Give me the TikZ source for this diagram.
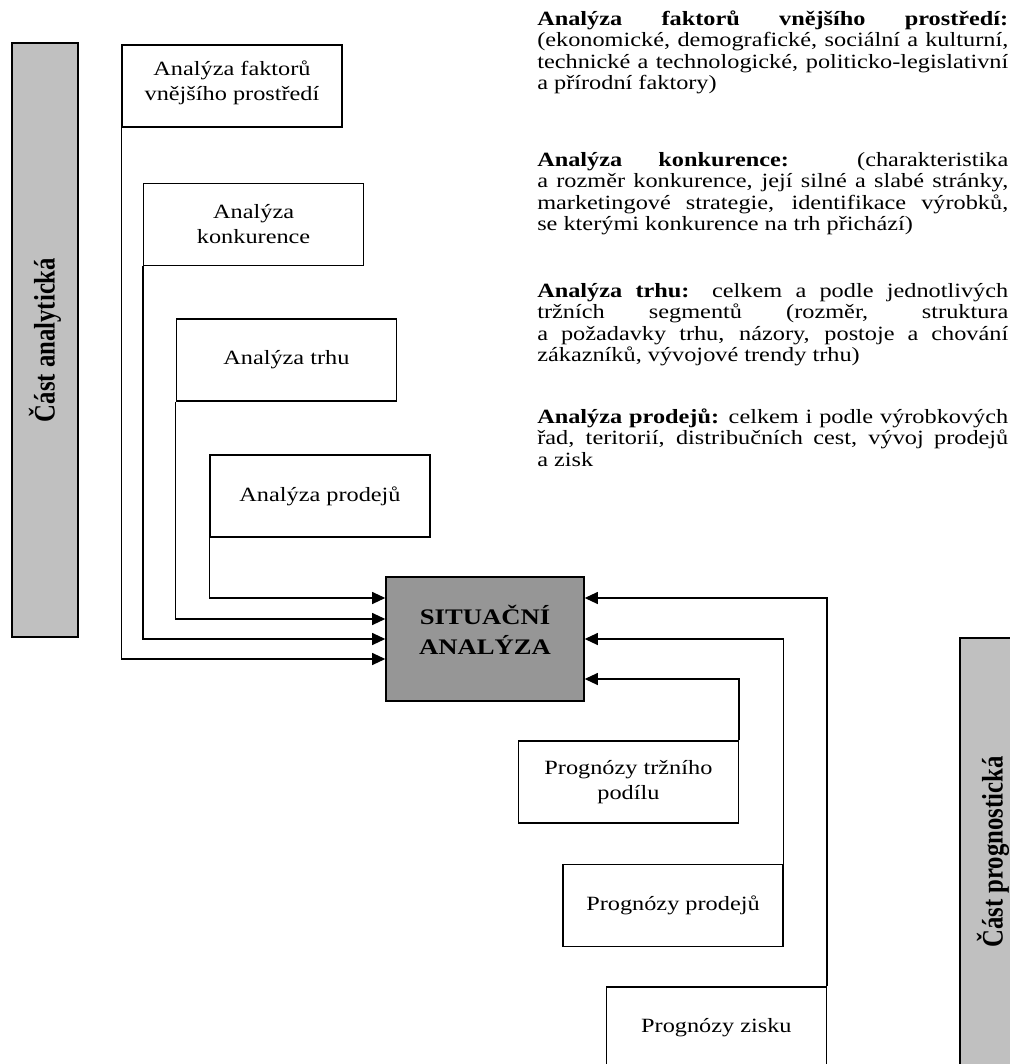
\documentclass[tikz,border=0pt]{standalone}
\usepackage{fontspec}
\setmainfont[FakeStretch=1.2]{Liberation Serif}
\newfontfamily\pruhfont{Liberation Serif}
\usetikzlibrary{arrows.meta}
\definecolor{sedapruh}{RGB}{192,192,192}
\definecolor{sedastred}{RGB}{150,150,150}
\hyphenpenalty=10000
\exhyphenpenalty=10000
\tolerance=10000

\begin{document}
\begin{tikzpicture}[
        okno/.style={draw, line width=1pt, minimum width=5.5cm, minimum height=2.05cm, inner sep=0pt, align=center, font=\fontsize{14.4}{17.8}\selectfont},
        pruh/.style={draw, line width=1pt, fill=sedapruh, rotate=90, minimum height=1.65cm, inner sep=0pt, font=\pruhfont\bfseries\fontsize{17.6}{20}\selectfont},
        spoj/.style={line width=1pt, -{Triangle[length=0.33cm, width=0.3cm]}},
        popis/.style={anchor=base west, text width=11.775cm, align=justify, inner sep=0pt, font=\fontsize{14.4}{15.4}\selectfont}
    ]
        \useasboundingbox (0,0) rectangle (25.25,-26.6);
        \clip (0,0) rectangle (25.25,-26.6);
        % The two grey bars on the sides.
            \node[pruh, minimum width=14.85cm] (analyticka) at (1.125,-8.5) {\scalebox{1}[1.2]{Část analytická}};
            \node[pruh, minimum width=10.7cm] (prognosticka) at (24.825,-21.3) {\scalebox{1}[1.2]{Část prognostická}};
        % Centre box.
            \node[draw, line width=1pt, fill=sedastred, minimum width=4.95cm, minimum height=3.1cm, align=center, font=\bfseries\fontsize{15.8}{21.3}\selectfont] (sa) at (12.125,-15.975) {SITUAČNÍ\\ANALÝZA\\[-8.5pt]\mbox{}};
        % Analytic boxes.
            \node[okno] (vnejsi) at (5.8,-2.15) {Analýza faktorů\\vnějšího prostředí\\[-10.6pt]\mbox{}};
            \node[okno] (konk) at (6.34,-5.61) {Analýza\\konkurence};
            \node[okno] (trh) at (7.16,-9.0) {Analýza trhu};
            \node[okno] (prodej) at (8.0,-12.4) {Analýza prodejů};
        % Prognostic boxes.
            \node[okno] (podil) at (15.71,-19.55) {Prognózy tržního\\podílu};
            \node[okno] (progprodej) at (16.825,-22.64) {Prognózy prodejů};
            \node[okno] (zisk) at (17.91,-25.7) {Prognózy zisku};
        % Arrows into the centre box.
            \draw[spoj] (prodej.south west) |- ([yshift=1.025cm]sa.west);
            \draw[spoj] (trh.south west) |- ([yshift=0.5cm]sa.west);
            \draw[spoj] (konk.south west) |- (sa.west);
            \draw[spoj] (vnejsi.south west) |- ([yshift=-0.5cm]sa.west);
            \draw[spoj] (zisk.north east) |- ([yshift=1.025cm]sa.east);
            \draw[spoj] (progprodej.north east) |- (sa.east);
            \draw[spoj] (podil.north east) |- ([yshift=-1cm]sa.east);
        % Below nodes are the notes on the right.
            \node[popis] (popis1) at (13.425,-0.625) {\textbf{Analýza faktorů vnějšího prostředí:}\linebreak (ekonomické, demografické, sociální a kulturní,\linebreak technické a technologické, politicko-legislativní\linebreak a přírodní faktory)};
            \node[popis] (popis2) at (13.425,-4.15) {\textbf{Analýza konkurence:} (charakteristika\linebreak a rozměr konkurence, její silné a slabé stránky,\linebreak marketingové strategie, identifikace výrobků,\linebreak se kterými konkurence na trh přichází)};
            \node[popis] (popis3) at (13.425,-7.425) {\textbf{Analýza trhu:} celkem a podle jednotlivých\linebreak tržních segmentů (rozměr, struktura\linebreak a~požadavky trhu, názory, postoje a chování\linebreak zákazníků, vývojové trendy trhu)};
            \node[popis] (popis4) at (13.425,-10.575) {\textbf{Analýza prodejů:} celkem i podle výrobkových\linebreak řad, teritorií, distribučních cest, vývoj prodejů\linebreak a zisk};
    \end{tikzpicture}
\end{document}
